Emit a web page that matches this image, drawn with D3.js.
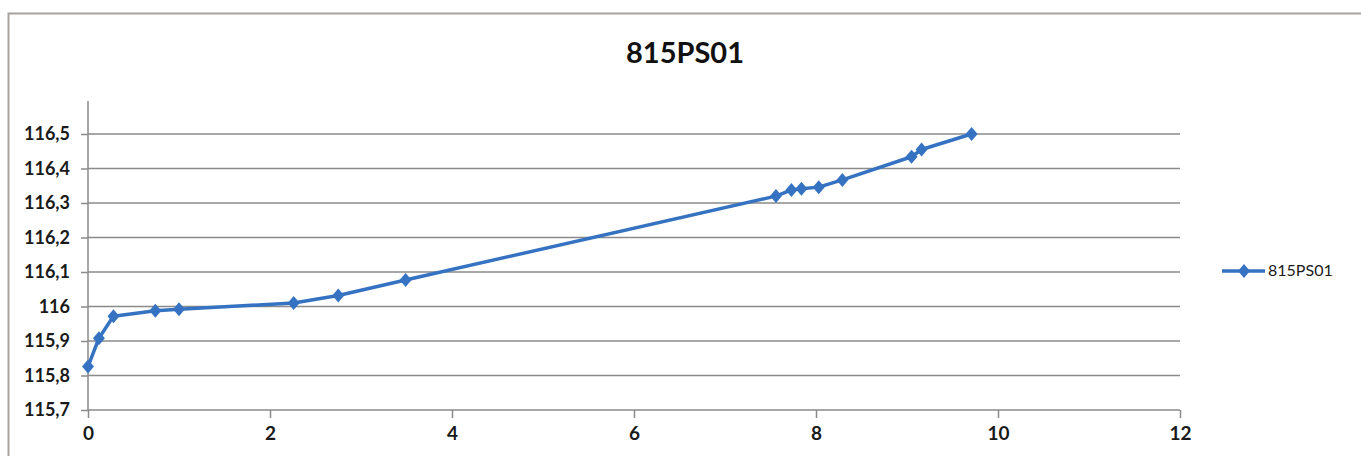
<!DOCTYPE html>
<html><head><meta charset="utf-8">
<script src="https://cdn.jsdelivr.net/npm/d3@7"></script>
<style>html,body{margin:0;padding:0;background:#fff;}svg{display:block;}</style>
</head><body>
<svg id="c" width="1361" height="456"></svg>
<script>
const title = "815PS01";
const seriesName = "815PS01";
const xValues = [0, 0.12, 0.28, 0.74, 1.0, 2.26, 2.75, 3.49, 7.56, 7.73, 7.84, 8.03, 8.29, 9.05, 9.16, 9.71];
const yValues = [115.826, 115.908, 115.972, 115.988, 115.992, 116.01, 116.032, 116.077, 116.32, 116.338, 116.341, 116.346, 116.367, 116.434, 116.455, 116.50];
const xTicks = [0, 2, 4, 6, 8, 10, 12];
const yTicks = [115.7, 115.8, 115.9, 116, 116.1, 116.2, 116.3, 116.4, 116.5];

const svg = d3.select("#c");
const color = "#3572c2";
const axisColor = "#8a8a8a";

// chart border
svg.append("path").attr("d", "M8.5,470 V13.5 H1400").attr("fill","none").attr("stroke","#a8a29e").attr("stroke-width",2);

const x = d3.scaleLinear().domain([0, 12]).range([88, 1180]);
const y = d3.scaleLinear().domain([115.7, 116.5]).range([410, 134]);

// title
svg.append("text").attr("x", 685).attr("y", 63).attr("text-anchor","middle")
  .attr("font-family","Lato, 'Open Sans', sans-serif").attr("font-weight","bold").attr("font-size",29)
  .attr("fill","#111").text(title);

// gridlines
svg.append("g").selectAll("line").data(yTicks.filter(d => d > 115.7)).join("line")
  .attr("x1", x(0)).attr("x2", x(12)).attr("y1", d => y(d)).attr("y2", d => y(d))
  .attr("stroke", axisColor).attr("stroke-width", 1.5);

// y axis
const yAxis = d3.axisLeft(y).tickValues(yTicks).tickSize(7).tickPadding(11)
  .tickFormat(d => d3.format(".1~f")(d).replace(".", ","));
const gy = svg.append("g").attr("transform", `translate(${x(0)},0)`).call(yAxis);
gy.select(".domain").remove();
gy.append("line").attr("x1",0).attr("x2",0).attr("y1",101).attr("y2",y(115.7)).attr("stroke",axisColor).attr("stroke-width",1.5);
gy.selectAll(".tick line").attr("stroke", axisColor).attr("stroke-width",1.5);
gy.selectAll(".tick text").attr("font-family","Lato, 'Open Sans', sans-serif").attr("font-weight","bold")
  .attr("font-size",18).attr("fill","#1a1a1a");

// x axis
const xAxis = d3.axisBottom(x).tickValues(xTicks).tickSize(8).tickPadding(9).tickFormat(d3.format("d"));
const gx = svg.append("g").attr("transform", `translate(0,${y(115.7)})`).call(xAxis);
gx.select(".domain").attr("stroke", axisColor).attr("stroke-width",1.5).attr("d", `M${x(0)},0H${x(12)}`);
gx.selectAll(".tick line").attr("stroke", axisColor).attr("stroke-width",1.5);
gx.selectAll(".tick text").attr("font-family","Lato, 'Open Sans', sans-serif").attr("font-weight","bold")
  .attr("font-size",19).attr("fill","#1a1a1a");

// series
const data = xValues.map((v, i) => ({x: v, y: yValues[i]}));
svg.append("path").datum(data)
  .attr("fill","none").attr("stroke", color).attr("stroke-width",3.5).attr("stroke-linejoin","round")
  .attr("d", d3.line().x(d => x(d.x)).y(d => y(d.y)));
const diamond = "M0,-7L6,0L0,7L-6,0Z";
svg.append("g").selectAll("path").data(data).join("path")
  .attr("transform", d => `translate(${x(d.x)},${y(d.y)})`)
  .attr("d", diamond).attr("fill", color);

// legend
const lg = svg.append("g");
lg.append("line").attr("x1",1222).attr("x2",1265).attr("y1",271).attr("y2",271).attr("stroke",color).attr("stroke-width",3.5);
lg.append("path").attr("transform","translate(1244,271)").attr("d", diamond).attr("fill", color);
lg.append("text").attr("x",1268).attr("y",276).attr("font-family","Lato, 'Open Sans', sans-serif")
  .attr("font-size",16).attr("fill","#1a1a1a").text(seriesName);
</script>
</body></html>
